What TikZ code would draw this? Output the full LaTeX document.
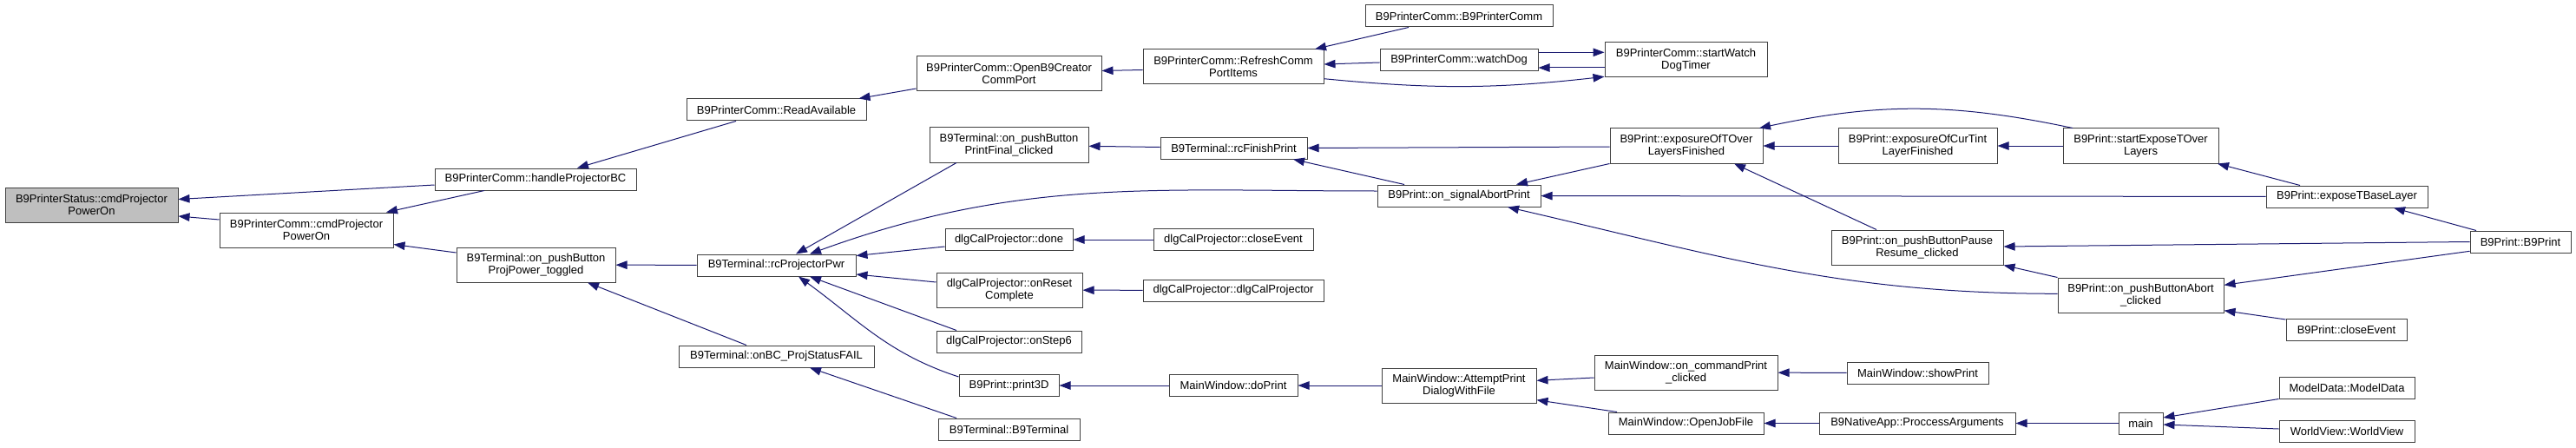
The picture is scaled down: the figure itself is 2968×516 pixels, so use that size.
\documentclass[tikz,border=0pt]{standalone}
\usepackage{fontspec}
\setmainfont{Liberation Sans}
\usetikzlibrary{arrows.meta}
\definecolor{edgeblue}{HTML}{191970}
\definecolor{rootgray}{HTML}{BFBFBF}
\begin{document}
\begin{tikzpicture}[x=1pt,y=-1pt,
func/.style={draw=black!75,line width=1pt,fill=white,align=center,inner xsep=2pt,inner ysep=1pt,font=\fontsize{13}{14.7}\selectfont,minimum height=25pt},
two/.style={minimum height=40pt},
focus/.style={func,two,fill=rootgray},
arr/.style={-{Triangle[length=13pt,width=9.5pt]},draw=edgeblue,line width=1pt}]
\useasboundingbox (0,0) rectangle (2968,516);
\node[focus,minimum width=199pt](status) at (105.5,236){B9PrinterStatus::cmdProjector\\PowerOn};
\node[func,two,minimum width=200pt](commpower) at (353,265){B9PrinterComm::cmdProjector\\PowerOn};
\node[func,minimum width=232pt](handlebc) at (617,206.5){B9PrinterComm::handleProjectorBC};
\node[func,minimum width=207pt](readavail) at (894.5,126.5){B9PrinterComm::ReadAvailable};
\node[func,two,minimum width=183pt](projtoggled) at (617.5,305){B9Terminal::on\_pushButton\\ProjPower\_toggled};
\node[func,minimum width=183pt](rcpower) at (894.5,305.5){B9Terminal::rcProjectorPwr};
\node[func,minimum width=225pt](projfail) at (894.5,410.5){B9Terminal::onBC\_ProjStatusFAIL};
\node[func,two,minimum width=213pt](opencomm) at (1162.5,85){B9PrinterComm::OpenB9Creator\\CommPort};
\node[func,two,minimum width=183pt](printfinal) at (1162.5,167){B9Terminal::on\_pushButton\\PrintFinal\_clicked};
\node[func,minimum width=147pt](caldone) at (1162.5,276){dlgCalProjector::done};
\node[func,two,minimum width=168pt](calreset) at (1163,334){dlgCalProjector::onReset\\Complete};
\node[func,minimum width=167pt](calstep) at (1162.5,393.5){dlgCalProjector::onStep6};
\node[func,minimum width=115pt](print3d) at (1162.5,444){B9Print::print3D};
\node[func,minimum width=163pt](terminal) at (1162.5,494.5){B9Terminal::B9Terminal};
\node[func,two,minimum width=208pt](refresh) at (1421,77){B9PrinterComm::RefreshComm\\PortItems};
\node[func,minimum width=169pt](finish) at (1421.5,170.5){B9Terminal::rcFinishPrint};
\node[func,minimum width=184pt](calclose) at (1421,276){dlgCalProjector::closeEvent};
\node[func,minimum width=208pt](calctor) at (1421,334.5){dlgCalProjector::dlgCalProjector};
\node[func,minimum width=148pt](doprint) at (1421,444){MainWindow::doPrint};
\node[func,minimum width=216pt](commctor) at (1681,18.5){B9PrinterComm::B9PrinterComm};
\node[func,minimum width=182pt](watchdog) at (1681,69.5){B9PrinterComm::watchDog};
\node[func,two,minimum width=187pt](startwatch) at (1942.5,69){B9PrinterComm::startWatch\\DogTimer};
\node[func,minimum width=188pt](abortsig) at (1681,225.5){B9Print::on\_signalAbortPrint};
\node[func,two,minimum width=176pt](toverdone) at (1943,168){B9Print::exposureOfTOver\\LayersFinished};
\node[func,two,minimum width=178pt](attempt) at (1681,444){MainWindow::AttemptPrint\\DialogWithFile};
\node[func,two,minimum width=211pt](cmdprint) at (1942.5,429){MainWindow::on\_commandPrint\\\_clicked};
\node[func,minimum width=179pt](openjob) at (1942.5,487.5){MainWindow::OpenJobFile};
\node[func,two,minimum width=183pt](curtint) at (2209.5,168){B9Print::exposureOfCurTint\\LayerFinished};
\node[func,two,minimum width=198pt](pause) at (2209,285){B9Print::on\_pushButtonPause\\Resume\_clicked};
\node[func,minimum width=163pt](showprint) at (2209.5,429.5){MainWindow::showPrint};
\node[func,minimum width=226pt](procargs) at (2209,487.5){B9NativeApp::ProccessArguments};
\node[func,two,minimum width=179pt](startover) at (2466.5,168){B9Print::startExposeTOver\\Layers};
\node[func,two,minimum width=191pt](abortbtn) at (2466.5,340){B9Print::on\_pushButtonAbort\\\_clicked};
\node[func,minimum width=51pt](mainfn) at (2466.5,487.5){main};
\node[func,minimum width=186pt](baselayer) at (2704,226.5){B9Print::exposeTBaseLayer};
\node[func,minimum width=116pt](printctor) at (2904,278.5){B9Print::B9Print};
\node[func,minimum width=139pt](printclose) at (2703.5,380){B9Print::closeEvent};
\node[func,minimum width=156pt](modeldata) at (2704,446.5){ModelData::ModelData};
\node[func,minimum width=156pt](worldview) at (2704,497){WorldView::WorldView};
\draw[arr]([yshift=-6.5pt]handlebc.west)--([yshift=6.5pt]status.east);
\draw[arr]([yshift=12pt]commpower.west)--([yshift=-13pt]status.east);
\draw[arr]([xshift=-59pt]handlebc.south)--([xshift=92pt]commpower.north);
\draw[arr]([yshift=14pt]projtoggled.west)--([yshift=-16.5pt]commpower.east);
\draw[arr]([xshift=-46.5pt]readavail.south)--([xshift=48pt]handlebc.north);
\draw[arr]([yshift=-17pt]opencomm.west)--([xshift=95pt]readavail.north);
\draw[arr]([yshift=-3.5pt]refresh.west)--([yshift=3.5pt]opencomm.east);
\draw[arr]([xshift=-58pt]commctor.south)--([xshift=94pt]refresh.north);
\draw[arr]([yshift=-2.5pt]watchdog.west)--([yshift=3pt]refresh.east);
\draw[arr]([yshift=-9pt]startwatch.west)--([yshift=-8.5pt]watchdog.east);
\draw[arr]([yshift=9.2pt]watchdog.east)--([yshift=8.7pt]startwatch.west);
\draw[arr]([yshift=-13.7pt]refresh.east) to[bend right=6] ([yshift=-19.3pt]startwatch.west);
\draw[arr](rcpower)--(projtoggled);
\draw[arr]([xshift=-34.5pt]projfail.north)--([xshift=59.5pt]projtoggled.south);
\draw[arr]([xshift=-60.5pt]terminal.north)--([xshift=38.5pt]projfail.south);
\draw[arr]([xshift=-60.5pt]printfinal.south)--([xshift=22.5pt]rcpower.north);
\draw[arr]([yshift=5.5pt]abortsig.west) to[out=180,in=20] ([xshift=38.5pt]rcpower.north);
\draw[arr]([yshift=-8pt]caldone.west)--([yshift=11pt]rcpower.east);
\draw[arr]([yshift=9pt]calreset.west)--([yshift=-10.5pt]rcpower.east);
\draw[arr]([xshift=-60.5pt]calstep.north)--([xshift=38.5pt]rcpower.south);
\draw[arr]([yshift=10pt]print3d.west) to[out=162,in=-36] ([xshift=25.5pt]rcpower.south);
\draw[arr]([yshift=1pt]finish.west)--([yshift=-1.3pt]printfinal.east);
\draw[arr]([xshift=-63pt]abortsig.north)--([xshift=68.5pt]finish.south);
\draw[arr]([yshift=-1pt]toverdone.west)--(finish.east);
\draw[arr](toverdone.south west)--([xshift=66pt]abortsig.north);
\draw[arr](baselayer)--(abortsig);
\draw[arr]([yshift=1.7pt]abortbtn.west) to[out=180,in=-13] ([xshift=56pt]abortsig.south);
\draw[arr](curtint)--(toverdone);
\draw[arr]([xshift=-78.5pt]startover.north) to[bend right=12] ([xshift=84pt]toverdone.north);
\draw[arr](startover)--(curtint);
\draw[arr]([xshift=-47pt]pause.north)--([xshift=55pt]toverdone.south);
\draw[arr](printctor.west)--([yshift=1pt]pause.east);
\draw[arr](abortbtn.north west)--(pause.south east);
\draw[arr]([xshift=-54pt]baselayer.north)--([xshift=88.5pt]startover.south);
\draw[arr]([xshift=-51pt]printctor.north)--([xshift=54pt]baselayer.south);
\draw[arr]([yshift=-10.8pt]printctor.west)--([yshift=11.7pt]abortbtn.east);
\draw[arr]([yshift=12pt]printclose.west)--([yshift=-17.7pt]abortbtn.east);
\draw[arr](calclose)--(caldone);
\draw[arr](calctor)--(calreset);
\draw[arr](doprint)--(print3d);
\draw[arr](attempt)--(doprint);
\draw[arr]([yshift=-6pt]cmdprint.west)--([yshift=5.7pt]attempt.east);
\draw[arr]([xshift=-79.5pt]openjob.north)--([yshift=-16.7pt]attempt.east);
\draw[arr](showprint)--(cmdprint);
\draw[arr](procargs)--(openjob);
\draw[arr](mainfn)--(procargs);
\draw[arr](modeldata.south west)--([yshift=6.5pt]mainfn.east);
\draw[arr]([yshift=3pt]worldview.west)--([yshift=-1.5pt]mainfn.east);
\end{tikzpicture}
\end{document}
